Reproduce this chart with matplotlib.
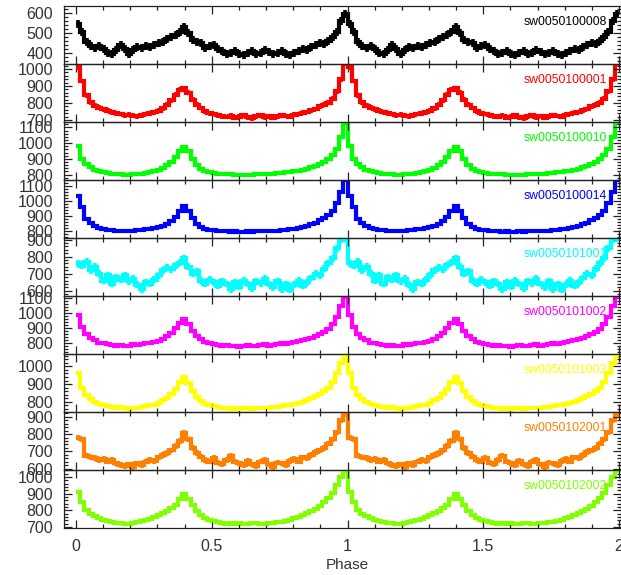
import numpy as np
import matplotlib
matplotlib.use('Agg')
import matplotlib.pyplot as plt
import matplotlib.ticker as mticker

plt.rcParams['font.family'] = ['Liberation Sans', 'DejaVu Sans']

# Pulse profiles, 64 phase bins per cycle (counts), one list per observation
obs_ids = ['sw0050100008', 'sw0050100001', 'sw0050100010', 'sw0050100014',
           'sw0050101001', 'sw0050101002', 'sw0050101003', 'sw0050102001',
           'sw0050102002']

prof_100008 = [545, 505, 455, 435, 425, 435, 420, 400, 395, 415, 440, 420, 395, 415, 430, 425,
               435, 430, 440, 450, 455, 470, 480, 490, 505, 530, 500, 465, 455, 450, 425, 435,
               440, 420, 410, 395, 400, 410, 395, 390, 400, 410, 395, 400, 415, 405, 395, 400,
               410, 395, 390, 400, 410, 420, 415, 430, 440, 450, 445, 460, 480, 505, 560, 595]
prof_100001 = [1010, 930, 845, 805, 785, 772, 762, 755, 745, 740, 735, 728, 732, 725, 722, 728,
               735, 740, 745, 755, 768, 790, 815, 850, 878, 888, 860, 820, 790, 770, 752, 740,
               735, 728, 722, 718, 726, 712, 720, 728, 716, 710, 722, 727, 716, 724, 713, 721,
               730, 724, 719, 732, 735, 744, 747, 757, 764, 780, 790, 802, 825, 870, 940, 1030]
prof_100010 = [985, 900, 865, 845, 830, 820, 813, 808, 805, 803, 801, 800, 800, 801, 802, 804,
               808, 813, 820, 830, 842, 858, 880, 910, 950, 978, 950, 900, 860, 835, 822, 815,
               810, 806, 804, 802, 801, 800, 800, 800, 800, 800, 801, 802, 803, 804, 806, 808,
               810, 813, 816, 820, 825, 830, 837, 845, 855, 866, 880, 898, 925, 965, 1040, 1130]
prof_100014 = [1035, 960, 880, 850, 830, 818, 810, 806, 804, 802, 800, 801, 803, 800, 804, 806,
               810, 812, 818, 825, 835, 848, 865, 895, 935, 965, 935, 885, 848, 828, 815, 808,
               805, 800, 798, 797, 796, 798, 795, 796, 797, 795, 798, 797, 800, 799, 801, 803,
               805, 808, 812, 816, 822, 828, 836, 845, 856, 870, 885, 905, 935, 985, 1060, 1140]
prof_101001 = [760, 745, 770, 720, 740, 700, 660, 690, 640, 680, 665, 690, 655, 670, 635, 610,
               650, 640, 665, 690, 720, 735, 725, 750, 765, 790, 740, 700, 715, 660, 640, 665,
               650, 630, 655, 640, 610, 650, 625, 660, 640, 615, 655, 645, 670, 640, 620, 655,
               610, 640, 605, 635, 660, 630, 650, 675, 700, 690, 730, 760, 790, 850, 900, 905]
prof_101002 = [985, 905, 860, 835, 820, 805, 800, 795, 790, 785, 790, 780, 785, 792, 788, 795,
               800, 805, 808, 818, 830, 845, 870, 900, 935, 960, 930, 880, 845, 825, 810, 800,
               795, 790, 785, 788, 780, 785, 778, 782, 790, 785, 780, 788, 792, 785, 790, 795,
               800, 798, 805, 810, 815, 820, 828, 835, 845, 860, 875, 895, 925, 975, 1050, 1105]
prof_101003 = [965, 880, 840, 815, 800, 790, 782, 775, 772, 768, 770, 765, 762, 768, 765, 770,
               775, 780, 785, 795, 808, 822, 845, 875, 910, 938, 905, 860, 825, 805, 790, 780,
               775, 770, 768, 765, 762, 765, 760, 763, 765, 762, 766, 764, 768, 766, 770, 773,
               776, 780, 784, 790, 796, 802, 810, 820, 832, 845, 860, 880, 910, 960, 1020, 1060]
prof_102001 = [780, 770, 675, 665, 660, 650, 655, 640, 650, 630, 620, 615, 625, 610, 630, 620,
               640, 650, 645, 665, 680, 690, 705, 730, 760, 805, 770, 720, 690, 670, 650, 640,
               660, 635, 625, 650, 675, 640, 630, 620, 645, 625, 615, 640, 650, 625, 610, 635,
               630, 620, 645, 655, 640, 665, 660, 680, 695, 705, 720, 745, 770, 810, 880, 915]
prof_102002 = [910, 850, 800, 780, 765, 752, 742, 735, 728, 722, 725, 720, 718, 724, 728, 735,
               742, 750, 758, 770, 782, 795, 812, 835, 868, 898, 870, 830, 795, 770, 752, 740,
               735, 728, 722, 720, 725, 718, 722, 720, 716, 722, 726, 720, 718, 724, 722, 728,
               732, 738, 745, 752, 760, 770, 782, 795, 810, 828, 848, 872, 905, 950, 1000, 1035]

profiles = [prof_100008, prof_100001, prof_100010, prof_100014, prof_101001,
            prof_101002, prof_101003, prof_102001, prof_102002]
errors = [20, 14, 8, 10, 20, 12, 10, 16, 11]
ylims = [(345, 635), (688, 1030), (765, 1135), (753, 1140), (570, 909),
         (729, 1113), (743, 1069), (592, 928), (694, 1042)]
colors = ['black', '#ff0000', '#00ff00', '#0000ff', '#00ffff',
          '#ff00ff', '#ffff00', '#ff8000', '#80ff00']

nbin = 64
ncyc = 2

fig = plt.figure(figsize=(6.21, 5.75), dpi=100)
bottom, top = 1 - 528 / 575, 1 - 6 / 575
left, right = 64 / 621, 1.0
h = (top - bottom) / len(profiles)

for i, (prof, err, yl, c, name) in enumerate(zip(profiles, errors, ylims, colors, obs_ids)):
    ax = fig.add_axes([left, top - (i + 1) * h, right - left, h])
    y = np.tile(np.array(prof, dtype=float), ncyc)
    edges = np.arange(nbin * ncyc + 1) / nbin
    centers = 0.5 * (edges[:-1] + edges[1:])
    ax.errorbar(centers, y, yerr=err, fmt='none', ecolor=c, elinewidth=2.6, capsize=0)
    ax.stairs(y, edges, color=c, lw=3.0, baseline=None)
    ax.set_xlim(-0.044, 2.007)
    ax.set_ylim(*yl)
    ax.xaxis.set_major_locator(mticker.MultipleLocator(0.5))
    ax.xaxis.set_minor_locator(mticker.MultipleLocator(0.1))
    ax.yaxis.set_major_locator(mticker.MultipleLocator(100))
    ax.yaxis.set_minor_locator(mticker.MultipleLocator(20))
    ax.tick_params(which='both', direction='in', top=True, right=True,
                   color='#222222', width=0.9, labelsize=11.5, labelcolor='#333333', pad=8)
    ax.tick_params(which='major', length=6)
    ax.tick_params(which='minor', length=3)
    ax.xaxis.set_major_formatter(mticker.FormatStrFormatter('%g'))
    if i < len(profiles) - 1:
        ax.tick_params(labelbottom=False)
    for sp in ax.spines.values():
        sp.set_color('#222222')
        sp.set_linewidth(0.9)
    ax.patch.set_alpha(0)
    ax.text(0.975, 0.72, name, color=c, fontsize=8.8, ha='right', va='center',
            transform=ax.transAxes)

fig.text(347 / 621, 1 - 565 / 575, 'Phase', fontsize=11, color='#333333',
         ha='center', va='center')

plt.savefig('out.png', dpi=100)
